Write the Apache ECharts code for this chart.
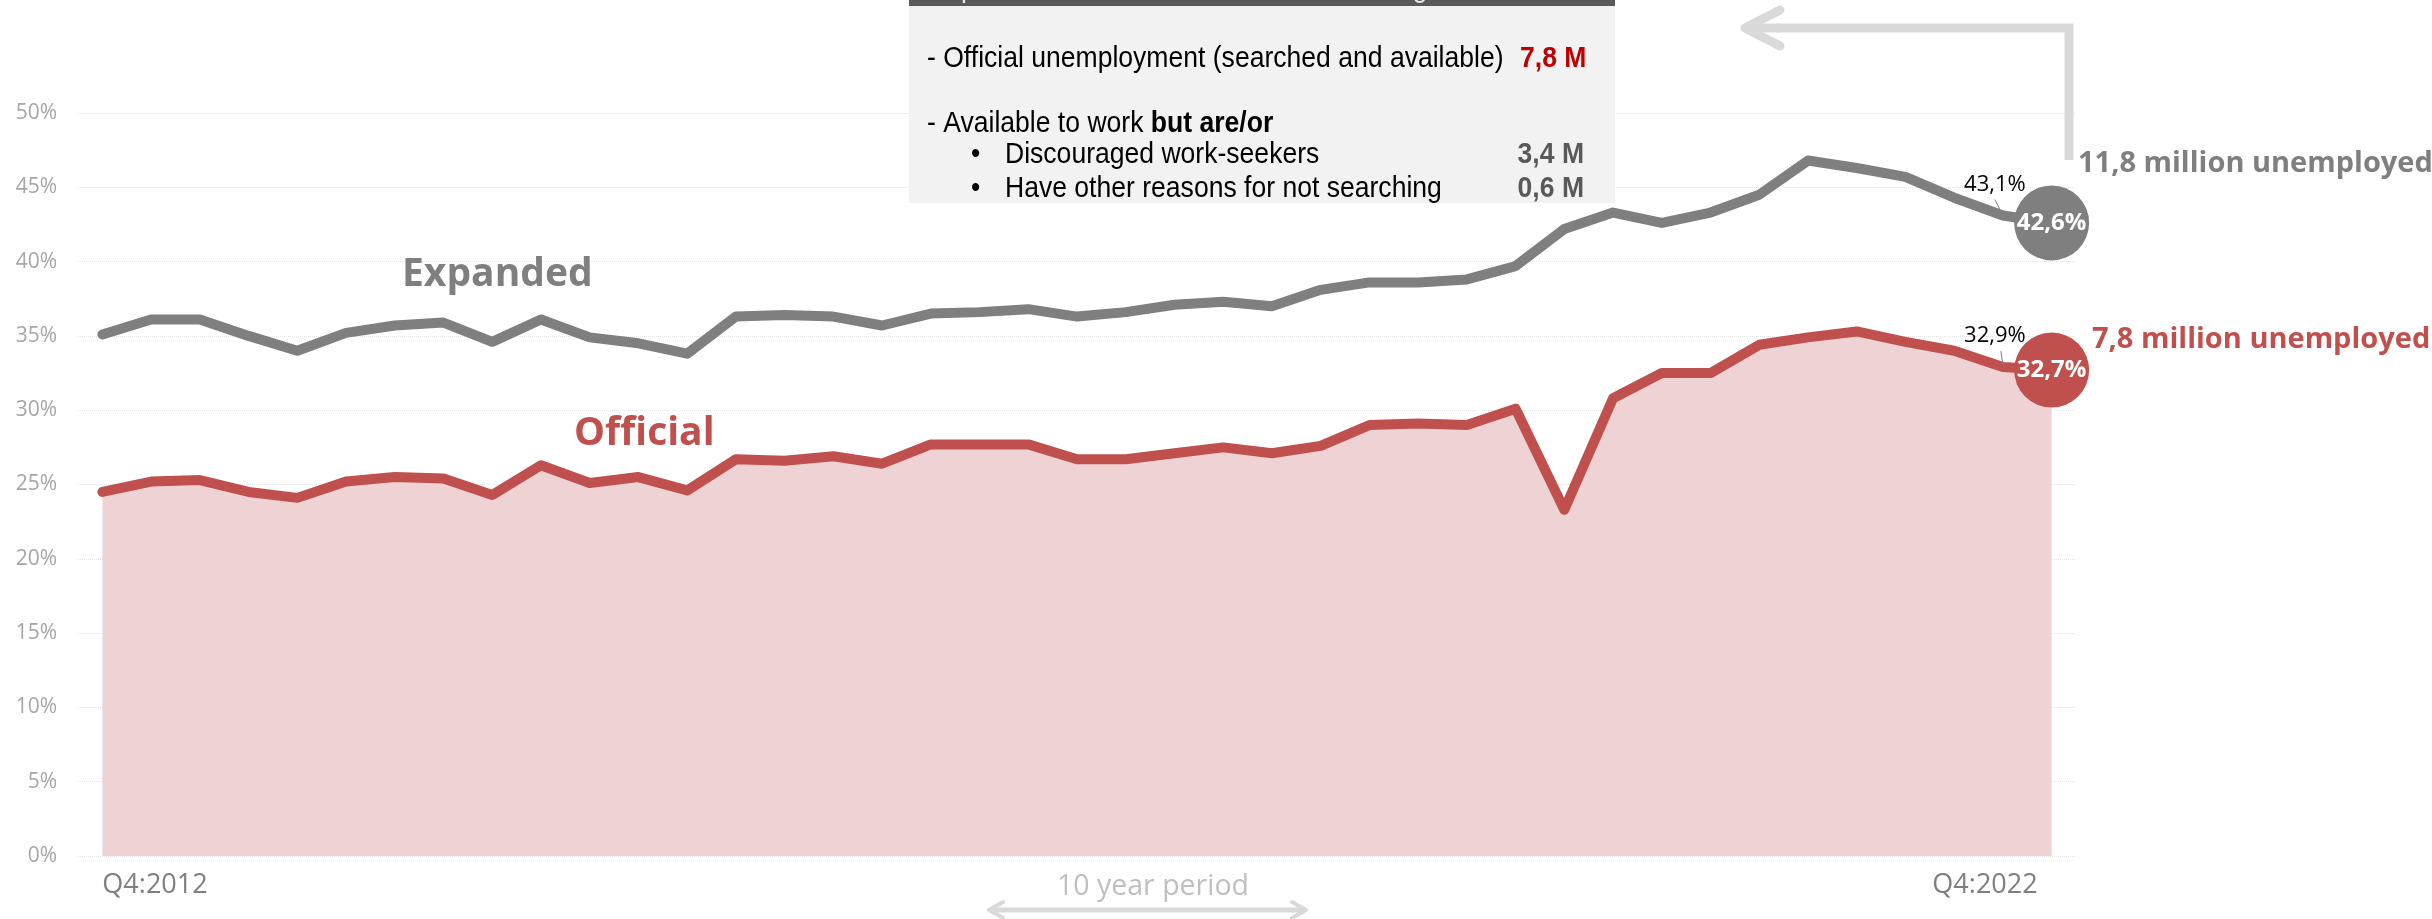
<!DOCTYPE html>
<html><head><meta charset="utf-8">
<script src="https://cdn.jsdelivr.net/npm/echarts/dist/echarts.min.js"></script>
<style>html,body{margin:0;padding:0;background:#fff;}#c{width:2432px;height:919px;}</style>
</head><body><div id="c"></div>
<script>
const categories = ['Q4:2012','Q1:2013','Q2:2013','Q3:2013','Q4:2013','Q1:2014','Q2:2014','Q3:2014','Q4:2014','Q1:2015','Q2:2015','Q3:2015','Q4:2015','Q1:2016','Q2:2016','Q3:2016','Q4:2016','Q1:2017','Q2:2017','Q3:2017','Q4:2017','Q1:2018','Q2:2018','Q3:2018','Q4:2018','Q1:2019','Q2:2019','Q3:2019','Q4:2019','Q1:2020','Q2:2020','Q3:2020','Q4:2020','Q1:2021','Q2:2021','Q3:2021','Q4:2021','Q1:2022','Q2:2022','Q3:2022','Q4:2022'];
const expanded = [35.1,36.1,36.1,35.0,34.0,35.2,35.7,35.9,34.6,36.1,34.9,34.5,33.8,36.3,36.4,36.3,35.7,36.5,36.6,36.8,36.3,36.6,37.1,37.3,37.0,38.1,38.6,38.6,38.8,39.7,42.2,43.3,42.6,43.3,44.5,46.8,46.3,45.7,44.3,43.1,42.6];
const official = [24.5,25.2,25.3,24.5,24.1,25.2,25.5,25.4,24.3,26.3,25.1,25.5,24.6,26.7,26.6,26.9,26.4,27.7,27.7,27.7,26.7,26.7,27.1,27.5,27.1,27.6,29.0,29.1,29.0,30.1,23.3,30.8,32.5,32.5,34.4,34.9,35.3,34.6,34.0,32.9,32.7];
const yTicks = [0,5,10,15,20,25,30,35,40,45,50];

const GRAY = '#7f7f7f', RED = '#c0504d';
const FONT = "'Open Sans', 'DejaVu Sans', sans-serif";
const NARROW = "'Liberation Sans', Arial, sans-serif";
const NS = 0.885; // horizontal squeeze to mimic a narrow face
const fmt = v => String(v).replace('.', ',') + '%';
const last = categories.length - 1;

function buildData(arr, color) {
  return arr.map((v, i) => {
    if (i === last) return {
      value: v, symbolSize: 75, itemStyle: {color: color},
      label: {show: true, position: 'inside', formatter: fmt(v), color: '#fff',
        fontFamily: FONT, fontWeight: 'bold', fontSize: 24}
    };
    if (i === last - 1) return {
      value: v,
      label: {show: true, position: 'top', distance: 20, offset: [-8, 0], formatter: fmt(v),
        color: '#000', fontFamily: FONT, fontSize: 22}
    };
    return v;
  });
}

const chart = echarts.init(document.getElementById('c'), null, {renderer: 'canvas'});
chart.setOption({
  animation: false,
  backgroundColor: '#fff',
  grid: {left: 78, right: 356, top: 113, bottom: 63, containLabel: false},
  xAxis: {
    type: 'category', data: categories, boundaryGap: true,
    axisLine: {show: false}, axisTick: {show: false}, splitLine: {show: false},
    axisLabel: {
      interval: (i) => i === 0 || i === last,
      alignMinLabel: 'left', alignMaxLabel: 'right',
      padding: [0, 14, 0, 0],
      margin: 16, fontSize: 27, color: GRAY, fontFamily: FONT
    }
  },
  yAxis: {
    type: 'value', min: yTicks[0], max: yTicks[yTicks.length - 1], interval: 5,
    axisLine: {show: false}, axisTick: {show: false},
    axisLabel: {formatter: '{value}%', margin: 21, fontSize: 21, color: '#a6a6a6', fontFamily: FONT},
    splitLine: {show: true, lineStyle: {type: 'dotted', color: '#e4e4e4', width: 1}}
  },
  series: [
    {
      name: 'Expanded', type: 'line', data: buildData(expanded, GRAY),
      symbol: 'circle', symbolSize: 0, showAllSymbol: true,
      lineStyle: {color: GRAY, width: 10, join: 'round', cap: 'round'},
      itemStyle: {color: GRAY}, emphasis: {disabled: true}, z: 3
    },
    {
      name: 'Official', type: 'line', data: buildData(official, RED),
      symbol: 'circle', symbolSize: 0, showAllSymbol: true,
      lineStyle: {color: RED, width: 10, join: 'round', cap: 'round'},
      itemStyle: {color: RED},
      areaStyle: {color: '#efd3d4', opacity: 1},
      emphasis: {disabled: true}, z: 2
    }
  ]
});

const pg = chart.convertToPixel({seriesIndex: 0}, [last - 1, expanded[last - 1]]);
const pr = chart.convertToPixel({seriesIndex: 1}, [last - 1, official[last - 1]]);

function txt(x, y, text, font, fill, align, sx) {
  return {type: 'text', x: x, y: y, z: 50, scaleX: sx || 1,
    style: {text: text, font: font, fill: fill, align: align || 'left', verticalAlign: 'middle',
      textAlign: align || 'left', textVerticalAlign: 'middle'}};
}

chart.setOption({
  graphic: [
    // info box
    {type: 'rect', shape: {x: 909, y: 0, width: 706, height: 203}, style: {fill: '#f2f2f2'}, z: 40},
    {type: 'rect', shape: {x: 909, y: 0, width: 706, height: 6}, style: {fill: '#595959'}, z: 41},
    {type: 'text', x: 930, y: 4, z: 42, scaleX: NS, style: {text: 'Expanded Definition includes the following',
      font: '30px ' + NARROW, fill: '#e6e6e6', align: 'left', verticalAlign: 'bottom', textAlign: 'left', textVerticalAlign: 'bottom'}},
    txt(927, 59, '- Official unemployment (searched and available)', '30px ' + NARROW, '#000', 'left', NS),
    txt(1520, 59, '7,8 M', 'bold 30px ' + NARROW, '#c00000', 'left', NS),
    {type: 'text', x: 927, y: 124, z: 50, scaleX: NS, style: {
      text: '{n|- Available to work }{b|but are/or}',
      verticalAlign: 'middle', textVerticalAlign: 'middle',
      rich: {n: {font: '30px ' + NARROW, fill: '#000', color: '#000'}, b: {font: 'bold 30px ' + NARROW, fill: '#000', color: '#000'}}
    }},
    txt(971, 155, '•', '30px ' + NARROW, '#000', 'left', NS),
    txt(1005, 155, 'Discouraged work-seekers', '30px ' + NARROW, '#000', 'left', NS),
    txt(1584, 155, '3,4 M', 'bold 30px ' + NARROW, '#595959', 'right', NS),
    txt(971, 189, '•', '30px ' + NARROW, '#000', 'left', NS),
    txt(1005, 189, 'Have other reasons for not searching', '30px ' + NARROW, '#000', 'left', NS),
    txt(1584, 189, '0,6 M', 'bold 30px ' + NARROW, '#595959', 'right', NS),
    // series labels
    txt(402, 275, 'Expanded', 'bold 39px ' + FONT, GRAY),
    txt(574, 434, 'Official', 'bold 39px ' + FONT, RED),
    txt(2078, 164, '11,8 million unemployed', 'bold 29px ' + FONT, GRAY),
    txt(2092, 340, '7,8 million unemployed', 'bold 29px ' + FONT, RED),
    // arrow top right
    {type: 'polyline', z: 30, shape: {points: [[2069, 160], [2069, 28], [1748, 28]]},
      style: {stroke: '#d9d9d9', lineWidth: 9, fill: null, lineJoin: 'miter'}},
    {type: 'polyline', z: 30, shape: {points: [[1780, 10], [1745, 28], [1780, 46]]},
      style: {stroke: '#d9d9d9', lineWidth: 9, fill: null, lineJoin: 'round', lineCap: 'round'}},
    // leader lines
    {type: 'line', z: 20, shape: {x1: pg[0] - 8, y1: pg[1] - 16, x2: pg[0] - 3, y2: pg[1] - 6},
      style: {stroke: '#7f7f7f', lineWidth: 1}},
    {type: 'line', z: 20, shape: {x1: pr[0] - 2, y1: pr[1] - 16, x2: pr[0], y2: pr[1] - 2},
      style: {stroke: '#7f7f7f', lineWidth: 1}},
    // 10 year period
    txt(1153, 887, '10 year period', '28.5px ' + FONT, '#bfbfbf', 'center'),
    {type: 'line', z: 20, shape: {x1: 990, y1: 910, x2: 1305, y2: 910}, style: {stroke: '#d9d9d9', lineWidth: 5}},
    {type: 'polyline', z: 20, shape: {points: [[1003, 902], [989, 910], [1003, 918]]},
      style: {stroke: '#d9d9d9', lineWidth: 4, fill: null, lineJoin: 'round', lineCap: 'round'}},
    {type: 'polyline', z: 20, shape: {points: [[1292, 902], [1306, 910], [1292, 918]]},
      style: {stroke: '#d9d9d9', lineWidth: 4, fill: null, lineJoin: 'round', lineCap: 'round'}}
  ]
});
</script></body></html>
